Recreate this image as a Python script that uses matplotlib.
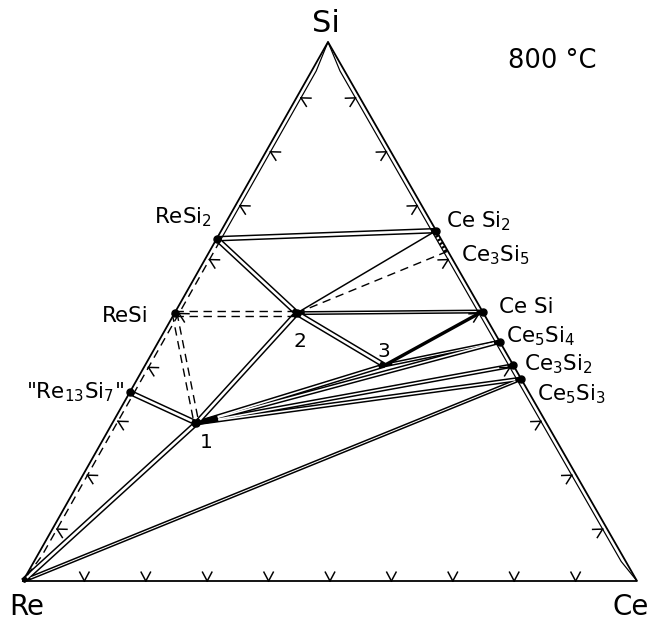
import numpy as np
import matplotlib
matplotlib.use('Agg')
from matplotlib import pyplot as plt

plt.rcParams['font.family'] = ['DejaVu Sans']
plt.rcParams['mathtext.fontset'] = 'dejavusans'

# corners of the triangle on the 652x621 canvas
RE = np.array([23.0, 581.0])
CE = np.array([637.0, 581.0])
SI = np.array([328.0, 42.0])

# phases: atomic fraction Si and Ce
phaseNames = ['ReSi2', 'ReSi', 'Re13Si7', 'CeSi2', 'Ce3Si5', 'CeSi', 'Ce5Si4',
              'Ce3Si2', 'Ce5Si3', '1', '2', '3', 'Re', 'Ce', 'Si']
phaseSi = [0.635, 0.497, 0.35, 0.65, 0.612, 0.50, 0.444, 0.40, 0.375,
           0.293, 0.497, 0.40, 0.0, 0.0, 1.0]
phaseCe = [0.0, 0.0, 0.0, 0.35, 0.388, 0.50, 0.556, 0.60, 0.625,
           0.137, 0.199, 0.39, 0.0, 1.0, 0.0]

# tie lines
doubleTies = [('ReSi2', 'CeSi2'), ('ReSi2', '2'), ('2', '3'), ('2', '1'),
              ('1', 'Re'), ('Re13Si7', '1')]
fanTies = [('1', '3'), ('1', 'Ce5Si4'), ('1', 'Ce3Si2'), ('1', 'Ce5Si3')]
narrowTies = [('Re', 'Ce5Si3'), ('2', 'CeSi'), ('3', 'Ce5Si4')]
singleTies = [('2', 'CeSi2')]
thickTies = [('3', 'CeSi')]
dashedDoubleTies = [('ReSi', '2'), ('ReSi', '1')]
dashedTies = [('2', 'Ce3Si5')]
dotPhases = ['ReSi2', 'ReSi', 'Re13Si7', 'CeSi2', 'CeSi', 'Ce5Si4',
             'Ce3Si2', 'Ce5Si3', '1', '2']

# labels
labelTexts = [r'ReSi$_2$', 'ReSi', r'"Re$_{13}$Si$_7$"', r'Ce Si$_2$',
              r'Ce$_3$Si$_5$', 'Ce Si', r'Ce$_5$Si$_4$', r'Ce$_3$Si$_2$',
              r'Ce$_5$Si$_3$']
labelXY = [(212, 223), (148, 322), (26, 398), (446, 227), (461, 261),
           (499, 313), (506, 342), (524, 370), (537, 400)]
labelHa = ['right', 'right', 'left', 'left', 'left', 'left', 'left',
           'left', 'left']


def tern(si, ce):
    return RE + ce * (CE - RE) + si * (SI - RE)


pos = {}
for n, s, c in zip(phaseNames, phaseSi, phaseCe):
    pos[n] = tern(s, c)

centroid = (RE + CE + SI) / 3.0


def inward(a, b):
    d = (b - a) / np.linalg.norm(b - a)
    n = np.array([-d[1], d[0]])
    if np.dot(centroid - a, n) < 0:
        n = -n
    return n


def perp(a, b):
    d = (b - a) / np.linalg.norm(b - a)
    return np.array([-d[1], d[0]])


fig = plt.figure(figsize=(6.52, 6.21), dpi=100)
ax = fig.add_axes([0, 0, 1, 1])
ax.set_xlim(0, 652)
ax.set_ylim(621, 0)
ax.axis('off')

px = 0.72  # points per pixel


def doubleLine(a, b, width, gap, trimA=4, trimB=4):
    pa, pb = pos[a], pos[b]
    ax.plot([pa[0], pb[0]], [pa[1], pb[1]], color='black',
            lw=width * px, solid_capstyle='butt', zorder=2)
    d = (pb - pa) / np.linalg.norm(pb - pa)
    wa = pa + d * trimA
    wb = pb - d * trimB
    ax.plot([wa[0], wb[0]], [wa[1], wb[1]], color='white',
            lw=gap * px, solid_capstyle='butt', zorder=3)


for a, b in doubleTies:
    doubleLine(a, b, 5.6, 2.6, 5, 5)
for a, b in fanTies:
    doubleLine(a, b, 4.6, 1.6, 22, 6)
for a, b in narrowTies:
    doubleLine(a, b, 4.0, 1.0, 8, 6)

for a, b in singleTies:
    pa, pb = pos[a], pos[b]
    ax.plot([pa[0], pb[0]], [pa[1], pb[1]], color='black', lw=1.5 * px, zorder=4)
for a, b in thickTies:
    pa, pb = pos[a], pos[b]
    ax.plot([pa[0], pb[0]], [pa[1], pb[1]], color='black', lw=3.4 * px, zorder=4)
for a, b in dashedTies:
    pa, pb = pos[a], pos[b]
    ax.plot([pa[0], pb[0]], [pa[1], pb[1]], color='black', lw=1.4 * px,
            linestyle=(0, (6, 4)), zorder=4)
for a, b in dashedDoubleTies:
    pa, pb = pos[a], pos[b]
    n = perp(pa, pb)
    for sgn in (-1, 1):
        qa = pa + n * sgn * 2.4
        qb = pb + n * sgn * 2.4
        ax.plot([qa[0], qb[0]], [qa[1], qb[1]], color='black', lw=1.4 * px,
                linestyle=(0, (6, 4)), zorder=4)

# triangle outline
tri = np.array([RE, CE, SI, RE])
ax.plot(tri[:, 0], tri[:, 1], color='black', lw=1.8 * px, zorder=5,
        solid_joinstyle='miter')

# inner lines along the binary edges
nR = inward(SI, CE)
rightInner = np.array([SI, SI + 0.05 * (CE - SI) + 4 * nR,
                       SI + 0.96 * (CE - SI) + 4 * nR, CE])
ax.plot(rightInner[:, 0], rightInner[:, 1], color='black', lw=1.2 * px, zorder=5)

nL = inward(RE, SI)
leftSolid = np.array([SI, RE + 0.95 * (SI - RE) + 4 * nL, pos['ReSi2'] + 4 * nL])
ax.plot(leftSolid[:, 0], leftSolid[:, 1], color='black', lw=1.2 * px, zorder=5)
leftDash = np.array([pos['ReSi2'] + 4 * nL, RE + 0.05 * (SI - RE) + 4 * nL, RE])
ax.plot(leftDash[:, 0], leftDash[:, 1], color='black', lw=1.4 * px,
        linestyle=(0, (6, 4)), zorder=5)

# Ce3Si5 homogeneity region
h1 = pos['CeSi2'] + 2 * nR
h2 = pos['Ce3Si5'] + 2 * nR
ax.plot([h1[0], h2[0]], [h1[1], h2[1]], color='black', lw=3.5 * px,
        linestyle=(0, (0.6, 0.6)), zorder=5)

# ticks every 10 at.%
edges = [(RE, CE, 0.0), (RE, SI, 4.0), (SI, CE, 4.0)]
for a, b, off in edges:
    n = inward(a, b)
    for k in range(1, 10):
        p = a + k / 10.0 * (b - a) + n * off
        for ang in (28, -28):
            t = np.radians(ang)
            r = np.array([n[0] * np.cos(t) - n[1] * np.sin(t),
                          n[0] * np.sin(t) + n[1] * np.cos(t)])
            q = p + 10 * r
            ax.plot([p[0], q[0]], [p[1], q[1]], color='black', lw=1.5 * px, zorder=5)

# phase dots
for n in dotPhases:
    ax.plot(pos[n][0], pos[n][1], 'o', color='black', ms=7 * px, zorder=6)

# labels
for t, (x, y), ha in zip(labelTexts, labelXY, labelHa):
    ax.text(x, y, t, fontsize=15.5, ha=ha, va='baseline', zorder=7)

ax.text(pos['1'][0] + 10, 448, '1', fontsize=14.5, ha='center', va='baseline')
ax.text(pos['2'][0] + 3, 347, '2', fontsize=14.5, ha='center', va='baseline')
ax.text(pos['3'][0] - 1, 357, '3', fontsize=14.5, ha='center', va='baseline')

ax.text(326, 32, 'Si', fontsize=22, ha='center', va='baseline')
ax.text(9, 615, 'Re', fontsize=20, ha='left', va='baseline')
ax.text(612, 615, 'Ce', fontsize=20, ha='left', va='baseline')
ax.text(508, 68, '800 °C', fontsize=18.5, ha='left', va='baseline')

fig.savefig('out.png', dpi=100)
